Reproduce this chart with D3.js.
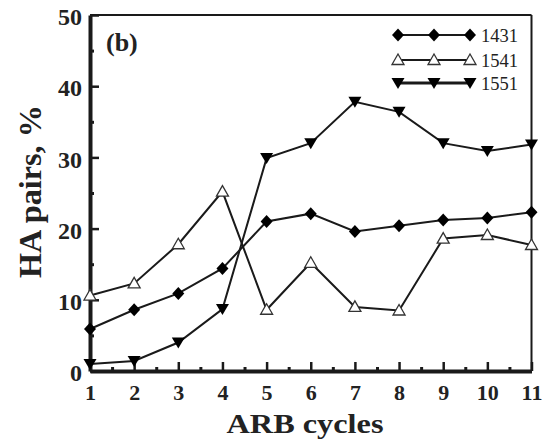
<!DOCTYPE html>
<html><head><meta charset="utf-8">
<script src="https://cdn.jsdelivr.net/npm/d3@7"></script>
<style>body{margin:0;background:#fff}svg{display:block}</style>
</head><body>
<svg id="c" width="542" height="441"></svg>
<script>
const cycles = [1,2,3,4,5,6,7,8,9,10,11];
const s1431 = [5.9, 8.6, 10.9, 14.4, 21.0, 22.1, 19.6, 20.4, 21.2, 21.5, 22.3];
const s1541 = [10.6, 12.3, 17.8, 25.2, 8.6, 15.2, 9.0, 8.5, 18.6, 19.1, 17.7];
const s1551 = [1.0, 1.4, 4.0, 8.7, 29.9, 32.0, 37.8, 36.4, 32.0, 30.9, 31.8];
const seriesNames = ["1431","1541","1551"];
const yTicks = [0,10,20,30,40,50];
const yMinor = [5,15,25,35,45];
const xMinor = [1.5,2.5,3.5,4.5,5.5,6.5,7.5,8.5,9.5,10.5];

const svg = d3.select("#c");
const L=90, R=531.5, T=15, B=371;
const x = d3.scaleLinear().domain([1,11]).range([L,R]);
const y = d3.scaleLinear().domain([0,50]).range([B,T]);
const ink = "#1a1a1a";
const serif = "'Liberation Serif','Times New Roman',serif";

// top & right spines
svg.append("line").attr("x1",L).attr("x2",R).attr("y1",T).attr("y2",T).attr("stroke",ink).attr("stroke-width",2);
svg.append("line").attr("x1",R).attr("x2",R).attr("y1",T).attr("y2",B).attr("stroke",ink).attr("stroke-width",2);

// minor ticks
const gxm = svg.append("g").attr("transform",`translate(0,${B})`)
  .call(d3.axisBottom(x).tickValues(xMinor).tickSize(-4).tickSizeOuter(0).tickFormat(""));
gxm.select(".domain").remove();
gxm.selectAll("line").attr("stroke",ink).attr("stroke-width",3);
const gym = svg.append("g").attr("transform",`translate(${L},0)`)
  .call(d3.axisLeft(y).tickValues(yMinor).tickSize(-4).tickSizeOuter(0).tickFormat(""));
gym.select(".domain").remove();
gym.selectAll("line").attr("stroke",ink).attr("stroke-width",3);

// major axes
const gx = svg.append("g").attr("transform",`translate(0,${B})`)
  .call(d3.axisBottom(x).tickValues(cycles).tickSize(-9).tickSizeOuter(0).tickPadding(13).tickFormat(d3.format("d")));
gx.select(".domain").attr("stroke",ink).attr("stroke-width",4);
gx.selectAll(".tick line").attr("stroke",ink).attr("stroke-width",2.5);
gx.selectAll("text").attr("font-family",serif).attr("font-weight","bold").attr("font-size",22).attr("fill","#222");

const gy = svg.append("g").attr("transform",`translate(${L},0)`)
  .call(d3.axisLeft(y).tickValues(yTicks).tickSize(-9).tickSizeOuter(0).tickPadding(8).tickFormat(d3.format("d")));
gy.select(".domain").attr("stroke",ink).attr("stroke-width",4);
gy.selectAll(".tick line").attr("stroke",ink).attr("stroke-width",2.5);
gy.selectAll("text").attr("font-family",serif).attr("font-weight","bold").attr("font-size",24).attr("fill","#222").attr("dy","0.4em");

// markers
const shapes = {
  "1431": "M0,-6.5L6,0L0,6.5L-6,0Z",
  "1541": "M0,-6L6,4.5L-6,4.5Z",
  "1551": "M-6.5,-5L6.5,-5L0,6Z"
};
const styleMarker = (sel,name) => {
  if(name==="1541") sel.attr("fill","#fff").attr("stroke","#333").attr("stroke-width",1.3);
  else sel.attr("fill","#000").attr("stroke","none");
};

const data = {"1431":s1431,"1541":s1541,"1551":s1551};
const line = d3.line().x((d,i)=>x(cycles[i])).y(d=>y(d));
seriesNames.forEach(name=>{
  svg.append("path").datum(data[name]).attr("d",line)
    .attr("fill","none").attr("stroke",ink).attr("stroke-width",2);
});
seriesNames.forEach(name=>{
  svg.append("g").selectAll("path").data(data[name]).join("path")
    .attr("d",shapes[name])
    .attr("transform",(d,i)=>`translate(${x(cycles[i])},${y(d)})`)
    .call(styleMarker,name);
});

// legend
const legY = [35,60,83];
seriesNames.forEach((name,k)=>{
  const g = svg.append("g").attr("transform",`translate(0,${legY[k]})`);
  g.append("line").attr("x1",398).attr("x2",470).attr("stroke",ink).attr("stroke-width",name==="1551"?3:2.2);
  [398,434,470].forEach(px=>{
    g.append("path").attr("d",shapes[name]).attr("transform",`translate(${px},0)`).call(styleMarker,name);
  });
  g.append("text").attr("x",481).attr("y",6.5).text(name)
    .attr("font-family",serif).attr("font-size",18.5).attr("fill","#222");
});

// panel label
svg.append("text").attr("x",106).attr("y",51).text("(b)")
  .attr("font-family",serif).attr("font-weight","bold").attr("font-size",26).attr("fill","#222");

// axis titles
svg.append("text").attr("x",305).attr("y",433).attr("text-anchor","middle").text("ARB cycles")
  .attr("font-family",serif).attr("font-weight","bold").attr("font-size",28).attr("fill","#222")
  .attr("textLength",157).attr("lengthAdjust","spacingAndGlyphs");
svg.append("text").attr("transform","translate(41,191.5) rotate(-90)").attr("text-anchor","middle").text("HA pairs, %")
  .attr("font-family",serif).attr("font-weight","bold").attr("font-size",32).attr("fill","#222")
  .attr("textLength",173).attr("lengthAdjust","spacingAndGlyphs");
</script>
</body></html>
